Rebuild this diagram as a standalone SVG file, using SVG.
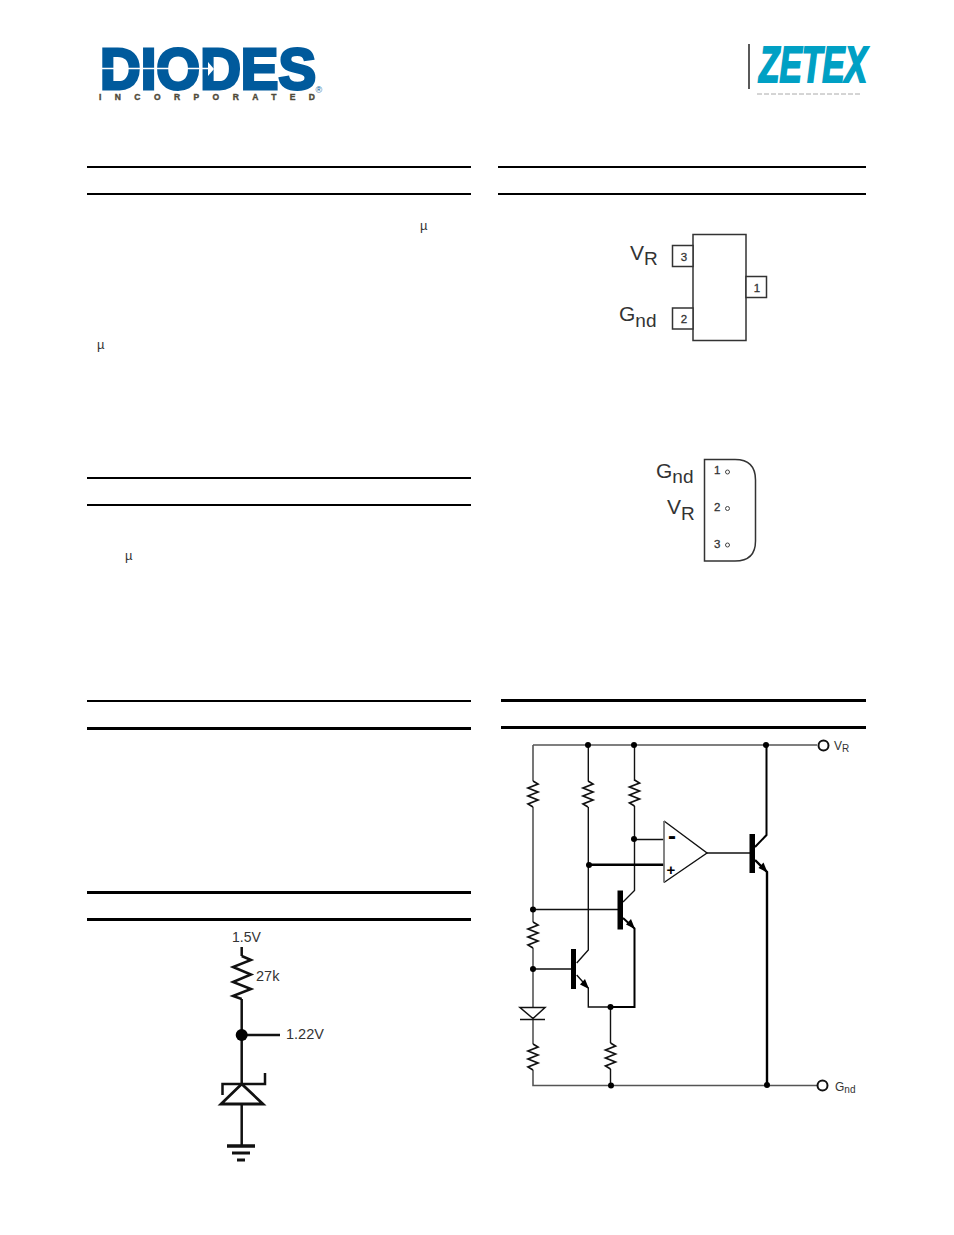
<svg xmlns="http://www.w3.org/2000/svg" xmlns:xlink="http://www.w3.org/1999/xlink" width="954" height="1235" viewBox="0 0 954 1235">
<style>
text{font-family:"Liberation Sans",Arial,sans-serif;fill:#222}
.rule{stroke:#000;stroke-width:2;fill:none}
.rule3{stroke:#000;stroke-width:3;fill:none}
.w{stroke:#111;stroke-width:1.4;fill:none}
.g{stroke:#555;stroke-width:1.6;fill:none}
.t{stroke:#000;stroke-width:2.4;fill:none}
.t2{stroke:#000;stroke-width:2;fill:none}
.d{fill:#000;stroke:none}
.bar{fill:#000;stroke:none}
.pk{fill:#fff;stroke:#333;stroke-width:1.5}
.res{stroke:#111;stroke-width:1.7;fill:none}
.term{fill:#fff;stroke:#111;stroke-width:2}
.mu{font-size:13px;fill:#333}
.big{font-size:21px;fill:#333}
.sub{font-size:19px}
.pn{font-size:11.5px;fill:#333;stroke:#333;stroke-width:.3}
.app{stroke:#111;stroke-width:2.5;fill:none}
.lab{fill:#333}
</style>
<defs>
<path id="r" d="M0 0L5 3L-5 7L5 11L-5 15L5 19L-5 23L0 26"/>
<path id="arrow" d="M0 0L-9 -4.500L-4 -10Z"/>
</defs>
<rect width="954" height="1235" fill="#fff"/>

<g id="logo-diodes">
<text x="100" y="88.500" font-size="57" font-weight="bold" textLength="216" lengthAdjust="spacingAndGlyphs" style="fill:#005a9c;stroke:#005a9c;stroke-width:3">DIODES</text>
<path d="M100 68.500H208" stroke="#fff" stroke-width="1.500"/>
<path d="M208 62L214 69L208 76Z" fill="#fff"/>
<text x="99" y="100" font-size="8.500" font-weight="bold" textLength="216" style="fill:#4f4a3a;stroke:#4f4a3a;stroke-width:.4">INCORPORATED</text>
<text x="315.500" y="93" font-size="9" style="fill:#005a9c">®</text>
</g>

<g id="logo-zetex">
<path d="M749 44V89" stroke="#000" stroke-width="1.300"/>
<text x="759" y="82" font-size="50" font-weight="bold" font-style="italic" textLength="108" lengthAdjust="spacingAndGlyphs" style="fill:#00a0c4;stroke:#00a0c4;stroke-width:2">ZETEX</text>
<path d="M757 94H862" stroke="#aaa" stroke-width="1" stroke-dasharray="5 2"/>
</g>

<g id="rules">
<path class="rule" d="M87 167H471M87 194H471M87 478H471M87 505H471M87 701H471M498 167H866M498 194H866"/>
<path class="rule3" d="M87 728.500H471M87 892.500H471M87 919.500H471M501 700.500H866M501 727.500H866"/>
</g>

<g id="micro-signs">
<text class="mu" x="420" y="230">µ</text>
<text class="mu" x="97" y="349">µ</text>
<text class="mu" x="125" y="560">µ</text>
</g>

<g id="sot23">
<rect class="pk" x="693" y="234.500" width="53" height="106"/>
<rect class="pk" x="672.500" y="245.500" width="20.500" height="21"/>
<rect class="pk" x="672.500" y="308" width="20.500" height="21"/>
<rect class="pk" x="746" y="276.500" width="20.500" height="21"/>
<text class="pn" x="684" y="261" text-anchor="middle">3</text>
<text class="pn" x="684" y="323" text-anchor="middle">2</text>
<text class="pn" x="757" y="292" text-anchor="middle">1</text>
<text class="big" x="630" y="259.500">V<tspan class="sub" dy="5.500" dx="0">R</tspan></text>
<text class="big" x="619" y="320.500">G<tspan class="sub" dy="6">nd</tspan></text>
</g>

<g id="to92">
<path class="pk" d="M704.500 459.500H735Q755.500 459.500 755.500 480V541Q755.500 561 735 561H704.500Z"/>
<text class="pn" x="714" y="474">1</text>
<text class="pn" x="714" y="511">2</text>
<text class="pn" x="714" y="548">3</text>
<circle cx="727.500" cy="472" r="2" fill="#fff" stroke="#444"/>
<circle cx="727.500" cy="508.500" r="2" fill="#fff" stroke="#444"/>
<circle cx="727.500" cy="545" r="2" fill="#fff" stroke="#444"/>
<text class="big" x="656" y="478">G<tspan class="sub" dy="5">nd</tspan></text>
<text class="big" x="667" y="513.500">V<tspan class="sub" dy="6">R</tspan></text>
</g>

<g id="connectors">
<path class="g" d="M533 745H817M533 745V781M533 807V922M533 948V1007M533 1019V1044M533 1070V1085.500H817"/>
<path class="w" d="M588.300 745V781M588.300 807V950L576.700 963"/>
<path class="w" d="M634.500 745V781M634.500 806V890.500L623 902"/>
<path class="w" d="M634 839.500H664M533 909.500H619M533 969H573"/>
<path class="t" d="M589 864.700H664"/>
<path class="w" d="M707 853H750"/>
<path class="w" d="M576.700 975L588.300 988V1007H610"/>
<path class="t2" d="M623 918L634.500 928.500V1007H610"/>
<path class="w" d="M610.500 1007V1043M610.500 1069V1085.500"/>
<path class="t2" d="M766.500 745V835L755 847"/>
<path class="t" d="M755 860L767 872V1085"/>
</g>

<g id="circuit-nodes">
<circle class="d" cx="588" cy="745" r="3"/><circle class="d" cx="634" cy="745" r="3"/><circle class="d" cx="766" cy="745" r="3"/>
<circle class="d" cx="634" cy="839" r="3"/><circle class="d" cx="589" cy="865" r="3"/><circle class="d" cx="533" cy="909.500" r="3"/>
<circle class="d" cx="533" cy="969" r="3"/><circle class="d" cx="610.500" cy="1007" r="3"/><circle class="d" cx="611" cy="1085.500" r="3"/><circle class="d" cx="767" cy="1085" r="3"/>
</g>

<g id="r1"><use xlink:href="#r" href="#r" class="res" x="533" y="781"/></g>
<g id="r2"><use xlink:href="#r" href="#r" class="res" x="588" y="781"/></g>
<g id="r3"><use xlink:href="#r" href="#r" class="res" x="634.500" y="780"/></g>
<g id="r4"><use xlink:href="#r" href="#r" class="res" x="533" y="922"/></g>
<g id="r5"><use xlink:href="#r" href="#r" class="res" x="533" y="1044"/></g>
<g id="r6"><use xlink:href="#r" href="#r" class="res" x="610.500" y="1043"/></g>

<g id="opamp">
<path d="M664 821L707 853L664 882.500" fill="none" stroke="#111" stroke-width="1.400"/>
<path d="M664 821V882.500" stroke="#777" stroke-width="1.800"/>
<text x="672" y="844" font-size="24" font-weight="bold" text-anchor="middle" style="fill:#000">-</text>
<text x="671" y="875" font-size="15" font-weight="bold" text-anchor="middle" style="fill:#000">+</text>
</g>

<g id="q1"><rect class="bar" x="571" y="949" width="5" height="40"/><use xlink:href="#arrow" href="#arrow" class="d" x="589" y="989"/></g>
<g id="q2"><rect class="bar" x="617.500" y="890.500" width="5.500" height="39"/><use xlink:href="#arrow" href="#arrow" class="d" x="635" y="929"/></g>
<g id="q3"><rect class="bar" x="749.500" y="834" width="5.500" height="39"/><use xlink:href="#arrow" href="#arrow" class="d" x="767.500" y="872.500"/></g>

<g id="diode">
<path d="M520 1007.500H545L533 1018.500Z" fill="#fff" stroke="#111" stroke-width="1.500"/>
<path d="M520 1019.500H545" stroke="#111" stroke-width="1.500"/>
</g>

<g id="terminal-vr">
<circle class="term" cx="823.500" cy="745.500" r="5"/>
<text class="lab" x="834" y="750" font-size="12">V<tspan dy="2" font-size="10">R</tspan></text>
</g>
<g id="terminal-gnd">
<circle class="term" cx="822.500" cy="1085.500" r="5"/>
<text class="lab" x="835" y="1091" font-size="12">G<tspan dy="2" font-size="10">nd</tspan></text>
</g>

<g id="app-connectors">
<path class="app" d="M241.700 947V956M241.700 999V1084M241.700 1035H280M241.700 1104V1145"/>
</g>
<g id="app-resistor">
<path class="app" d="M241.700 956L251 960L233 967L251 974.500L233 982L251 989L233 996L241.700 999"/>
</g>
<g id="app-node"><circle class="d" cx="241.700" cy="1035" r="6"/></g>
<g id="app-zener">
<path d="M241.700 1084L221 1104H263Z" fill="#fff" stroke="#111" stroke-width="2.800"/>
<path d="M222.500 1095V1084H265V1073" fill="none" stroke="#111" stroke-width="2.500"/>
</g>
<g id="app-ground">
<path d="M227 1146H255" stroke="#111" stroke-width="3.500"/>
<path d="M232 1153H250" stroke="#111" stroke-width="3"/>
<path d="M237 1160H245" stroke="#111" stroke-width="3"/>
</g>
<g id="app-labels">
<text class="lab" x="232" y="942" font-size="14">1.5V</text>
<text class="lab" x="256" y="981" font-size="14.500">27k</text>
<text class="lab" x="286" y="1039" font-size="14.500">1.22V</text>
</g>
</svg>
